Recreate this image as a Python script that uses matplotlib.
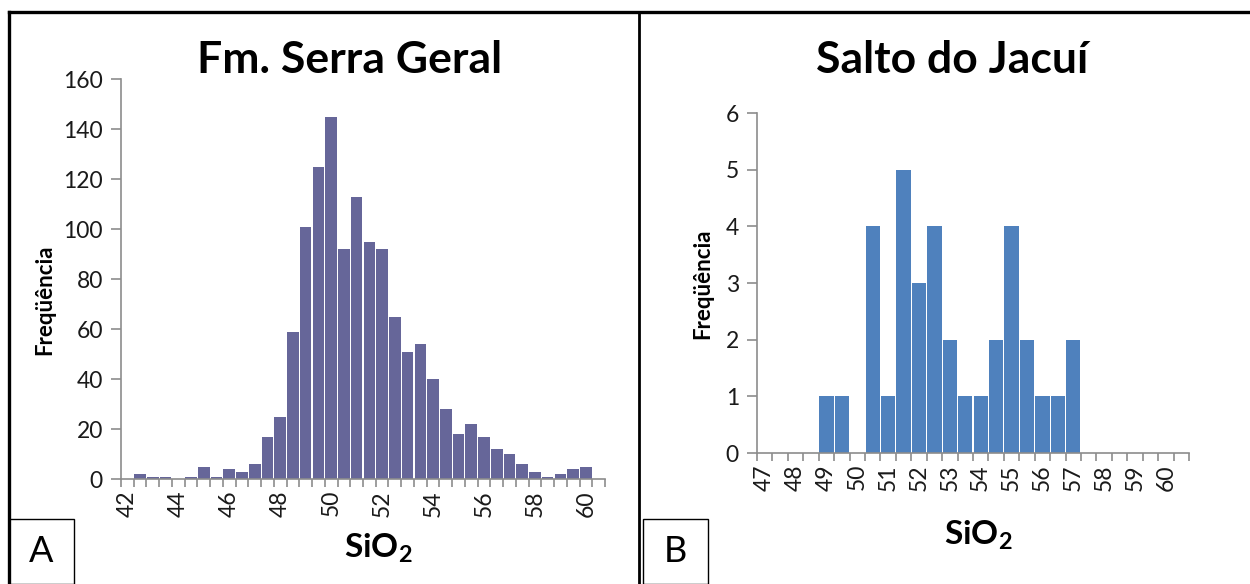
#!/usr/bin/env python3
"""SiO2 frequency histograms: Fm. Serra Geral (A) and Salto do Jacuí (B)."""

import matplotlib

matplotlib.use("Agg")

import matplotlib.pyplot as plt
import numpy as np
from matplotlib.lines import Line2D
from matplotlib.patches import Rectangle

# --- data -----------------------------------------------------------------
# panel A: bins 42.0 .. 60.5 in steps of 0.5
bins_a = [42 + 0.5 * i for i in range(38)]
freq_a = [0, 2, 1, 1, 0, 1, 5, 1, 4, 3,
          6, 17, 25, 59, 101, 125, 145, 92, 113, 95,
          92, 65, 51, 54, 40, 28, 18, 22, 17, 12,
          10, 6, 3, 1, 2, 4, 5, 0]
labels_a = ["42", "44", "46", "48", "50", "52", "54", "56", "58", "60"]

# panel B: bins 47.0 .. 60.5 in steps of 0.5
bins_b = [47 + 0.5 * i for i in range(28)]
freq_b = [0, 0, 0, 0, 1, 1, 0, 4, 1, 5,
          3, 4, 2, 1, 1, 2, 4, 2, 1, 1,
          2, 0, 0, 0, 0, 0, 0, 0]
labels_b = ["47", "48", "49", "50", "51", "52", "53", "54", "55", "56",
            "57", "58", "59", "60"]

TITLE_A = "Fm. Serra Geral"
TITLE_B = "Salto do Jacuí"
YLABEL = "Freqüência"
XLABEL = r"$\mathbf{SiO_2}$"

COLOR_A = "#666699"
COLOR_B = "#4f81bd"
AXIS_GREY = "#8c8c8c"
TEXT = "#1a1a1a"

plt.rcParams["font.family"] = ["Lato", "DejaVu Sans"]
plt.rcParams["mathtext.fontset"] = "custom"
plt.rcParams["mathtext.bf"] = "Lato:bold"
plt.rcParams["mathtext.rm"] = "Lato"

W, H = 1250.0, 584.0


def fx(px):
    return px / W


def fy(py):
    return 1 - py / H


def draw_hist(ax, bins, freq, labels, step, color, ymax, ystep, tick_size, px_width):
    x = np.arange(len(bins))
    # ~1.2 px light gap between neighbouring bars
    bar_w = 1.0 - 1.2 * len(bins) / px_width
    ax.bar(x, freq, width=bar_w, color=color, linewidth=0)
    ax.set_xlim(-0.5, len(bins) - 0.5)
    ax.set_ylim(0, ymax)

    ax.set_xticks(x[::step][:len(labels)])
    ax.set_xticklabels(labels, rotation=90, fontsize=tick_size, color=TEXT)
    ax.set_xticks(np.arange(len(bins) + 1) - 0.5, minor=True)
    ax.tick_params(axis="x", which="major", length=0, pad=8)
    ax.tick_params(axis="x", which="minor", length=6, color=AXIS_GREY, width=1.2)

    ax.set_yticks(np.arange(0, ymax + 0.1, ystep))
    ax.tick_params(axis="y", length=7, color=AXIS_GREY, width=1.2,
                   labelsize=tick_size, labelcolor=TEXT, pad=6)

    for side in ("top", "right"):
        ax.spines[side].set_visible(False)
    for side in ("left", "bottom"):
        ax.spines[side].set_color(AXIS_GREY)
        ax.spines[side].set_linewidth(1.2)


fig = plt.figure(figsize=(12.5, 5.84), dpi=100)

ax_a = fig.add_axes([fx(121), fy(479), fx(605) - fx(121), fy(79) - fy(479)])
draw_hist(ax_a, bins_a, freq_a, labels_a, 4, COLOR_A, 160, 20, 16.5, 605 - 121)

ax_b = fig.add_axes([fx(757), fy(453), fx(1189) - fx(757), fy(113) - fy(453)])
draw_hist(ax_b, bins_b, freq_b, labels_b, 2, COLOR_B, 6, 1, 16.5, 1189 - 757)

# titles and axis labels placed like the original chart areas
fig.text(fx(350), fy(60), TITLE_A, fontsize=32, fontweight="bold",
         ha="center", va="center", color="black")
fig.text(fx(952), fy(60), TITLE_B, fontsize=32, fontweight="bold",
         ha="center", va="center", color="black")
fig.text(fx(45), fy(300), YLABEL, fontsize=16, fontweight="bold",
         rotation=90, ha="center", va="center", color="black")
fig.text(fx(703), fy(284), YLABEL, fontsize=16, fontweight="bold",
         rotation=90, ha="center", va="center", color="black")
fig.text(fx(378), fy(548), XLABEL, fontsize=24, ha="center", va="center",
         color="black")
fig.text(fx(978), fy(535), XLABEL, fontsize=24, ha="center", va="center",
         color="black")

# frame lines and panel letters
fig.add_artist(Line2D([fx(9), fx(9)], [fy(12), 0], color="black", lw=2.4))
fig.add_artist(Line2D([fx(9), 1], [fy(12), fy(12)], color="black", lw=2.4))
fig.add_artist(Line2D([fx(639), fx(639)], [fy(12), 0], color="black", lw=2.0))

for x0, x1, letter in [(9, 74, "A"), (643, 708, "B")]:
    fig.add_artist(Rectangle((fx(x0), 0), fx(x1) - fx(x0), fy(519),
                             fill=False, edgecolor="black", lw=1.0))
    fig.text(fx((x0 + x1) / 2), fy(551), letter, fontsize=26,
             ha="center", va="center")

fig.savefig("out.png", dpi=100)
